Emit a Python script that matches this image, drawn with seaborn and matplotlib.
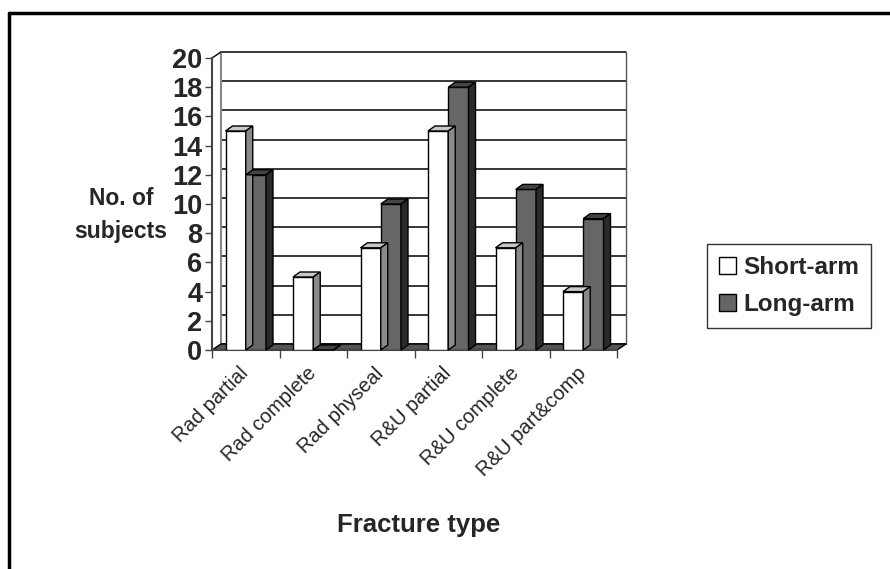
import matplotlib as mpl
mpl.use('Agg')
import matplotlib.pyplot as plt
from matplotlib.patches import Polygon
from matplotlib.lines import Line2D
import seaborn as sns
import pandas as pd

categories = ['Rad partial', 'Rad complete', 'Rad physeal',
              'R&U partial', 'R&U complete', 'R&U part&comp']
short_arm = [15, 5, 7, 15, 7, 4]
long_arm = [12, 0, 10, 18, 11, 9]
series = ['Short-arm', 'Long-arm']
yticks = list(range(0, 21, 2))

df = pd.DataFrame({
    'type': categories * 2,
    'n': short_arm + long_arm,
    'group': [series[0]] * len(categories) + [series[1]] * len(categories),
})

sns.set_theme(style='white')
plt.rcParams['font.family'] = ['Liberation Sans', 'DejaVu Sans']

W, H = 890, 569
fig = plt.figure(figsize=(W / 100, H / 100), dpi=100)
ax = fig.add_axes([212 / W, 1 - 350 / H, (617 - 212) / W, (350 - 58) / H])

face = {'Short-arm': '#ffffff', 'Long-arm': '#666666'}
top_c = {'Short-arm': '#c8c8c8', 'Long-arm': '#444444'}
side_c = {'Short-arm': '#8a8a8a', 'Long-arm': '#2a2a2a'}

sns.barplot(data=df, x='type', y='n', hue='group', hue_order=series,
            palette=face, width=0.6, edgecolor='black', linewidth=1,
            ax=ax, legend=False, zorder=3)
ax.set_xlim(-0.5, 5.5)
ax.set_ylim(0, 20)

# depth offset of the 3D look, in pixels -> data units
ppx = (617 - 212) / 6.0
ppy = (350 - 58) / 20.0
wall_dx, wall_dy = 9 / ppx, 6 / ppy
bar_dx, bar_dy = 7 / ppx, 5 / ppy

# back wall gridlines
for v in yticks:
    ax.plot([-0.5 + wall_dx, 5.5 + wall_dx], [v + wall_dy, v + wall_dy],
            color='black', lw=1.1, zorder=1, clip_on=False)
ax.plot([-0.5 + wall_dx] * 2, [wall_dy, 20 + wall_dy], color='#888888', lw=1.5, zorder=1, clip_on=False)
ax.plot([5.5 + wall_dx] * 2, [wall_dy, 20 + wall_dy], color='#555555', lw=1, zorder=1, clip_on=False)
ax.plot([-0.5, -0.5 + wall_dx], [20, 20 + wall_dy], color='black', lw=1, zorder=1, clip_on=False)
# floor
ax.add_patch(Polygon([(-0.5, 0), (5.5, 0), (5.5 + wall_dx, wall_dy), (-0.5 + wall_dx, wall_dy)],
                     closed=True, facecolor='#555555', edgecolor='black', lw=1, zorder=2, clip_on=False))

# 3D faces for each bar
for container, name in zip(ax.containers, series):
    for bar in container:
        x0 = bar.get_x()
        x1 = x0 + bar.get_width()
        h = bar.get_height()
        ax.add_patch(Polygon([(x0, h), (x1, h), (x1 + bar_dx, h + bar_dy), (x0 + bar_dx, h + bar_dy)],
                             closed=True, facecolor=top_c[name], edgecolor='black', lw=1, zorder=3, clip_on=False))
        ax.add_patch(Polygon([(x1, 0), (x1 + bar_dx, bar_dy), (x1 + bar_dx, h + bar_dy), (x1, h)],
                             closed=True, facecolor=side_c[name], edgecolor='black', lw=1, zorder=3, clip_on=False))

for s in ['top', 'right']:
    ax.spines[s].set_visible(False)
for s in ['left', 'bottom']:
    ax.spines[s].set_color('#444444')
    ax.spines[s].set_linewidth(1.5)

ax.set_yticks(yticks)
ax.set_yticklabels([str(v) for v in yticks], fontsize=19.5, fontweight='bold')
# labels sit a little left of the category centre, like the original
ax.set_xticks([i - 0.1 for i in range(len(categories))])
ax.set_xticklabels(categories, rotation=45, ha='right', rotation_mode='anchor', fontsize=14.5)
ax.set_xticks([i - 0.5 for i in range(len(categories) + 1)], minor=True)
ax.tick_params(axis='x', which='major', length=0, pad=10)
ax.tick_params(axis='x', which='minor', length=6, width=1, direction='out', color='#444444', bottom=True)
ax.tick_params(axis='y', length=5, width=1, direction='out', color='#444444', left=True, pad=2)
ax.set_xlabel('')
ax.set_ylabel('')

fig.text(121 / W, 1 - 215 / H, 'No. of\nsubjects', fontsize=16.5, fontweight='bold',
         ha='center', va='center', linespacing=1.6)
fig.text(419 / W, 1 - 525 / H, 'Fracture type', fontsize=18.5, fontweight='bold',
         ha='center', va='center')

handles = [Polygon([(0, 0)], closed=True, facecolor=face[s], edgecolor='black', lw=1) for s in series]
leg = fig.legend(handles, series, loc='center', bbox_to_anchor=(789 / W, 1 - 286 / H),
                 fontsize=17.5, frameon=True, fancybox=False, edgecolor='black',
                 handlelength=0.7, handleheight=0.7, handletextpad=0.3, labelspacing=0.55,
                 borderpad=0.5)
leg.get_frame().set_linewidth(1)
for t in leg.get_texts():
    t.set_fontweight('bold')

# outer frame (top and left edges visible)
fig.add_artist(Line2D([9 / W, 9 / W], [0, 1 - 13 / H], color='black', lw=2.5, transform=fig.transFigure))
fig.add_artist(Line2D([9 / W, 1], [1 - 13 / H, 1 - 13 / H], color='black', lw=2.5, transform=fig.transFigure))

fig.savefig('out.png', dpi=100)
